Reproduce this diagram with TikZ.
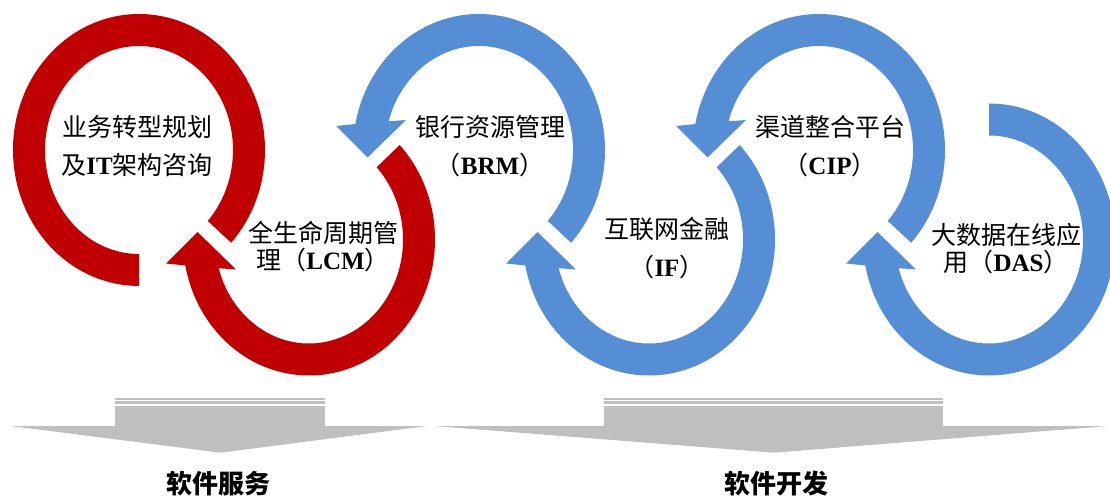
\documentclass[tikz,border=0pt]{standalone}
\usepackage{fontspec}
\setmainfont{Liberation Serif}
\newfontfamily\cjk{Noto Sans CJK SC}
\newcommand\zh[1]{{\cjk #1}}
\newcommand\lat[1]{{\bfseries #1}}
\usetikzlibrary{calc}
\definecolor{redc}{HTML}{C00000}
\definecolor{bluec}{HTML}{558ED5}
\definecolor{grayc}{HTML}{BFBFBF}
\begin{document}
\begin{tikzpicture}[x=1pt,y=1pt,
  lbl/.style={align=center,font=\fontsize{25}{38}\selectfont,inner sep=0pt,text=black},
  lbltight/.style={align=center,font=\fontsize{25}{27}\selectfont,inner sep=0pt,text=black},
  bottomlbl/.style={font=\fontsize{26}{30}\selectfont\cjk\bfseries,inner sep=0pt,text=black},
  ringred/.style={fill=redc},
  ringblue/.style={fill=bluec},
  grayarrow/.style={fill=grayc}]
\clip (0,0) rectangle (1110,498);
\coordinate (C1) at (139,348);
\coordinate (C2) at (309,258.5);
\coordinate (C3) at (479,348);
\coordinate (C4) at (649,258.5);
\coordinate (C5) at (819,348);
\coordinate (C6) at (989,258.5);

% ring 1 (no head)
\begin{scope}[shift={(C1)}]
\fill[ringred] (-43:126pt and 136pt) arc[start angle=-43,end angle=270,x radius=126pt,y radius=136pt]
  -- (270:94pt and 104pt) arc[start angle=270,end angle=-43,x radius=94pt,y radius=104pt] -- cycle;
\end{scope}
% ring 2 (head up, left)
\begin{scope}[shift={(C2)}]
\fill[ringred] (44:126pt and 136pt) arc[start angle=44,end angle=-169,x radius=126pt,y radius=136pt]
  -- (-143,-24) -- (-111.5,7.5) -- (-73,-30)
  -- (-164:94pt and 104pt) arc[start angle=-164,end angle=44,x radius=94pt,y radius=104pt] -- cycle;
\end{scope}
% ring 3 (head down, left)
\begin{scope}[shift={(C3)}]
\fill[ringblue] (-43:126pt and 136pt) arc[start angle=-43,end angle=169,x radius=126pt,y radius=136pt]
  -- (-143,24) -- (-111.5,-7.5) -- (-73,30)
  -- (164:94pt and 104pt) arc[start angle=164,end angle=-43,x radius=94pt,y radius=104pt] -- cycle;
\end{scope}
% ring 4
\begin{scope}[shift={(C4)}]
\fill[ringblue] (44:126pt and 136pt) arc[start angle=44,end angle=-169,x radius=126pt,y radius=136pt]
  -- (-143,-24) -- (-111.5,7.5) -- (-73,-30)
  -- (-164:94pt and 104pt) arc[start angle=-164,end angle=44,x radius=94pt,y radius=104pt] -- cycle;
\end{scope}
% ring 5
\begin{scope}[shift={(C5)}]
\fill[ringblue] (-43:126pt and 136pt) arc[start angle=-43,end angle=169,x radius=126pt,y radius=136pt]
  -- (-143,24) -- (-111.5,-7.5) -- (-73,30)
  -- (164:94pt and 104pt) arc[start angle=164,end angle=-43,x radius=94pt,y radius=104pt] -- cycle;
\end{scope}
% ring 6
\begin{scope}[shift={(C6)}]
\fill[ringblue] (90:126pt and 136pt) arc[start angle=90,end angle=-169,x radius=126pt,y radius=136pt]
  -- (-143,-24) -- (-111.5,7.5) -- (-73,-30)
  -- (-164:94pt and 104pt) arc[start angle=-164,end angle=90,x radius=94pt,y radius=104pt] -- cycle;
\end{scope}

% labels
\node[lbl] (t1) at (137,352) {\zh{业务转型规划}\\\zh{及}\lat{IT}\zh{架构咨询}};
\node[lbltight] (t2) at (323,251.5) {\zh{全生命周期管}\\\zh{理（}\lat{LCM}\zh{）}};
\node[lbl] (t3) at (490,352) {\zh{银行资源管理}\\\zh{（}\lat{BRM}\zh{）}};
\node[lbl] (t4) at (667,249.5) {\zh{互联网金融}\\\zh{（}\lat{IF}\zh{）}};
\node[lbl] (t5) at (830,352) {\zh{渠道整合平台}\\\zh{（}\lat{CIP}\zh{）}};
\node[lbltight] (t6) at (1006,249.5) {\zh{大数据在线应}\\\zh{用（}\lat{DAS}\zh{）}};

% gray arrows
\fill[grayarrow] (115,98.5) rectangle (325,100.5);
\fill[grayarrow] (115,94.5) rectangle (325,97);
\fill[grayarrow] (115,72) rectangle (325,92.5);
\fill[grayarrow] (10.7,72) -- (427,72) -- (220.6,45.3) -- cycle;
\fill[grayarrow] (603.6,98.5) rectangle (943,100.5);
\fill[grayarrow] (603.6,94.5) rectangle (943,97);
\fill[grayarrow] (603.6,72) rectangle (943,92.5);
\fill[grayarrow] (434,72) -- (1108,72) -- (774,45.3) -- cycle;

\node[bottomlbl] (b1) at (218,14) {软件服务};
\node[bottomlbl] (b2) at (776,14) {软件开发};
\end{tikzpicture}
\end{document}
